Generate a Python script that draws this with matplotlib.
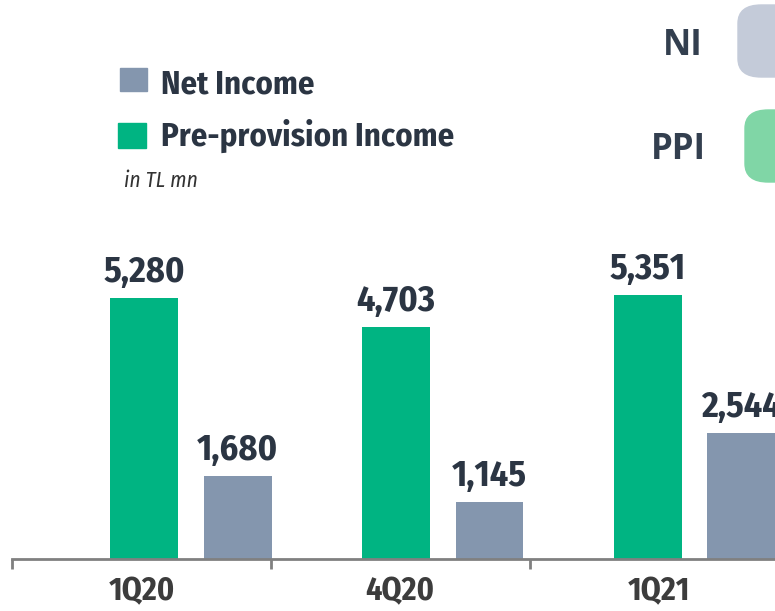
import matplotlib
matplotlib.use("Agg")
import matplotlib.pyplot as plt
from matplotlib.patches import FancyBboxPatch, Rectangle

categories = ["1Q20", "4Q20", "1Q21"]
ppi_values = [5280, 4703, 5351]
ni_values = [1680, 1145, 2544]
legend_labels = ["Net Income", "Pre-provision Income"]
unit_note = "in TL mn"
side_labels = ["NI", "PPI"]

GREEN = "#00b482"
GRAY = "#8496ae"
TXT = "#2b3543"
COND = ["Fira Sans Condensed", "DejaVu Sans"]
H = 611.0
W = 775.0

fig = plt.figure(figsize=(7.75, 6.11), dpi=100)
# axes: baseline at y=559 px, left at x=12 px, extends to right edge
ax = fig.add_axes([12/W, (H - 559)/H, (W - 12)/W, 559/H])

xs = list(range(len(categories)))
step = 0.973
w = 0.2625
g_x = [x * step + 0.01 for x in xs]
n_x = [x * step + 0.372 for x in xs]
ax.bar(g_x, ppi_values, width=w, color=GREEN, zorder=2)
ax.bar(n_x, ni_values, width=w, color=GRAY, zorder=2)

for xx, vals in ((g_x, ppi_values), (n_x, ni_values)):
    for x, v in zip(xx, vals):
        ax.annotate(f"{v:,}", (x, v), xytext=(0, 11.5), textcoords="offset points",
                    ha="center", va="baseline", fontsize=26, fontweight="bold",
                    color=TXT, family=COND)

ax.set_xlim(-0.5, 2.448)
ax.set_ylim(0, 559/0.04943)
for s in ["top", "right", "left"]:
    ax.spines[s].set_visible(False)
ax.spines["bottom"].set_color("#808080")
ax.spines["bottom"].set_linewidth(2)
ax.set_yticks([])
ax.set_xticks(xs)
ax.set_xticklabels(categories, fontsize=23, fontweight="bold", color="#3c3c3c", family=COND)
ax.tick_params(axis="x", which="major", length=0, pad=12)
ax.set_xticks([-0.5, 0.5, 1.5], minor=True)
ax.tick_params(axis="x", which="minor", length=7, width=2, color="#808080")

# legend
fig.patches.append(Rectangle((120/W, 1 - 91/H), 27/W, 23/H, transform=fig.transFigure, color=GRAY))
fig.patches.append(Rectangle((118/W, 1 - 148/H), 28/W, 25/H, transform=fig.transFigure, color=GREEN))
fig.text(161/W, 1 - 93/H, legend_labels[0], fontsize=23.5, fontweight="bold", color=TXT,
         va="baseline", ha="left", family=COND)
fig.text(161/W, 1 - 146/H, legend_labels[1], fontsize=23.5, fontweight="bold", color=TXT,
         va="baseline", ha="left", family=COND)
fig.text(124/W, 1 - 187/H, unit_note, fontsize=15.5, fontstyle="italic", color="#333333",
         va="baseline", ha="left", family=COND)

# top-right tags
fig.patches.append(FancyBboxPatch((738/W, 1 - 77/H), 80/W, 72/H,
                                  boxstyle="round,pad=0,rounding_size=0.03",
                                  transform=fig.transFigure, color="#c4cbd9", clip_on=False))
fig.patches.append(FancyBboxPatch((745/W, 1 - 182/H), 80/W, 72/H,
                                  boxstyle="round,pad=0,rounding_size=0.03",
                                  transform=fig.transFigure, color="#80d6a6", clip_on=False))
fig.text(683/W, 1 - 55/H, side_labels[0], fontsize=25, fontweight="bold", color="#333f4f",
         ha="center", va="baseline", family=["Open Sans", "DejaVu Sans"])
fig.text(678/W, 1 - 159/H, side_labels[1], fontsize=25, fontweight="bold", color="#333f4f",
         ha="center", va="baseline", family=["Open Sans", "DejaVu Sans"])

fig.savefig("out.png", dpi=100)
